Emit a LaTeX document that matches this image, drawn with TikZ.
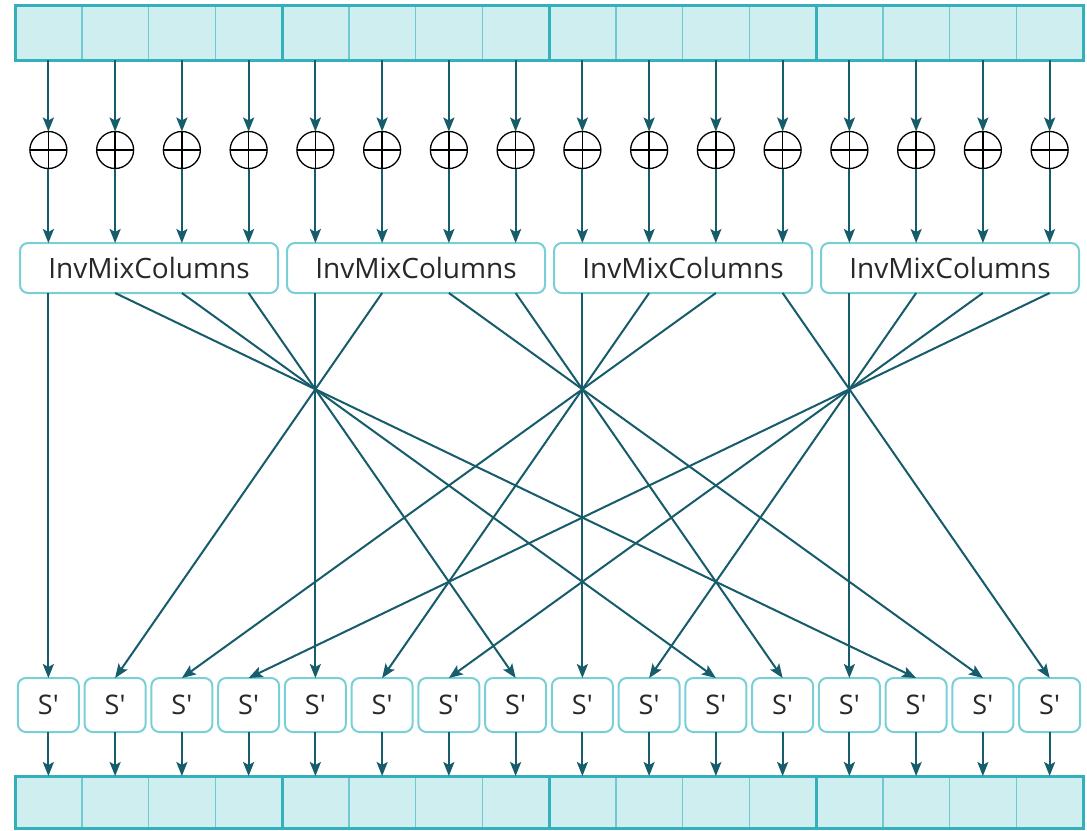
\documentclass[tikz,border=0pt]{standalone}
\usepackage{fontspec}
\setmainfont{Open Sans}
\usetikzlibrary{arrows.meta,calc}
\definecolor{barfill}{RGB}{206,238,240}
\definecolor{barline}{RGB}{52,176,186}
\definecolor{cellline}{RGB}{110,202,208}
\definecolor{boxline}{RGB}{120,208,214}
\definecolor{wire}{RGB}{22,92,106}
\definecolor{txt}{RGB}{40,40,40}
\begin{document}
\begin{tikzpicture}[x=1pt,y=-1pt,
  cell/.style={draw=cellline,line width=1.5pt,fill=barfill,minimum width=66.75pt,minimum height=55pt,inner sep=0pt,outer sep=0pt},
  bcell/.style={cell,minimum height=52pt},
  xorop/.style={circle,draw=black,line width=1.3pt,minimum size=37pt,inner sep=0pt,outer sep=0pt},
  mixbox/.style={draw=boxline,line width=2pt,rounded corners=8pt,minimum width=258pt,minimum height=50pt,inner sep=0pt,outer sep=0pt,font=\fontsize{28}{30}\selectfont,text=txt},
  sbox/.style={draw=boxline,line width=2pt,rounded corners=8pt,minimum width=61pt,minimum height=54pt,inner sep=0pt,outer sep=0pt,font=\fontsize{27}{29}\selectfont,text=txt},
  wirearrow/.style={draw=wire,line width=2pt,-{Stealth[length=14pt,width=11pt,inset=3pt]}},
]
\useasboundingbox[fill=white] (0,0) rectangle (1087,830);
% top and bottom bars
\foreach \i in {0,...,15}{
  \node[cell] (t\i) at ({48.375+66.75*\i},32.5) {};
  \node[bcell] (b\i) at ({48.375+66.75*\i},802) {};
}
\draw[barline,line width=3pt] (t0.north west) rectangle (t15.south east);
\draw[barline,line width=3pt] (b0.north west) rectangle (b15.south east);
\foreach \i in {3,7,11}{
  \draw[barline,line width=3pt] (t\i.north east) -- (t\i.south east);
  \draw[barline,line width=3pt] (b\i.north east) -- (b\i.south east);
}
% XOR symbols
\foreach \i in {0,...,15}{
  \node[xorop] (x\i) at ({48.375+66.75*\i},150) {};
  \draw[line width=1.3pt] (x\i.north) -- (x\i.south) (x\i.west) -- (x\i.east);
}
% InvMixColumns boxes
\foreach \b in {0,...,3}{
  \node[mixbox] (m\b) at ({149+267*\b},268) {InvMixColumns};
}
% S' boxes
\foreach \i in {0,...,15}{
  \node[sbox] (s\i) at ({48.375+66.75*\i},705) {S\textquotesingle};
}
% arrows top bar -> XOR -> InvMixColumns
\foreach \i in {0,...,15}{
  \pgfmathtruncatemacro{\bb}{\i/4}
  \draw[wirearrow] (t\i.south) -- (x\i.north);
  \draw[wirearrow] (x\i.south) -- (x\i |- m\bb.north);
}
% InvShiftRows wiring
\foreach \j/\k in {0/0,4/4,8/8,12/12,1/13,2/10,3/7,5/1,6/14,7/11,9/5,10/2,11/15,13/9,14/6,15/3}{
  \pgfmathtruncatemacro{\bb}{\j/4}
  \draw[wirearrow] (x\j |- m\bb.south) -- (s\k.north);
}
% S' -> bottom bar
\foreach \i in {0,...,15}{
  \draw[wirearrow] (s\i.south) -- (b\i.north);
}
\end{tikzpicture}
\end{document}
